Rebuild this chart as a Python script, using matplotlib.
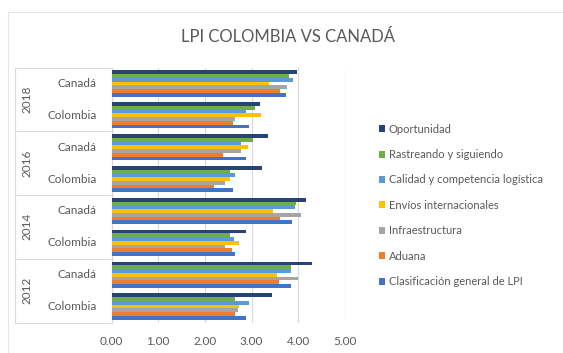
import matplotlib
matplotlib.use("Agg")
import matplotlib.pyplot as plt
import matplotlib.transforms as mtransforms
from matplotlib.patches import Patch, Rectangle
from matplotlib.lines import Line2D
import numpy as np

plt.rcParams['font.family'] = ['Lato', 'DejaVu Sans']

years = ['2012', '2014', '2016', '2018']
countries = ['Colombia', 'Canadá']

series_names = [
    'Clasificación general de LPI',
    'Aduana',
    'Infraestructura',
    'Envíos internacionales',
    'Calidad y competencia logística',
    'Rastreando y siguiendo',
    'Oportunidad',
]
colors = ['#4472C4', '#ED7D31', '#A5A5A5', '#FFC000', '#5B9BD5', '#70AD47', '#264478']

# Order of rows: 2012 Colombia, 2012 Canadá, 2014 Colombia, 2014 Canadá, ...
lpi_general    = [2.87, 3.85, 2.64, 3.86, 2.60, 2.88, 2.94, 3.73]
aduana         = [2.64, 3.58, 2.58, 3.60, 2.19, 2.39, 2.60, 3.60]
infraestructura = [2.70, 3.99, 2.43, 4.06, 2.43, 2.77, 2.65, 3.75]
envios         = [2.74, 3.55, 2.72, 3.45, 2.54, 2.92, 3.20, 3.38]
calidad        = [2.94, 3.85, 2.63, 3.94, 2.64, 2.77, 2.88, 3.89]
rastreando     = [2.64, 3.85, 2.54, 3.96, 2.54, 3.04, 3.07, 3.81]
oportunidad    = [3.44, 4.30, 2.87, 4.17, 3.23, 3.36, 3.17, 3.97]

series_values = [lpi_general, aduana, infraestructura, envios, calidad, rastreando, oportunidad]
x_ticks = [0, 1, 2, 3, 4, 5]

W, H = 563, 353
fig = plt.figure(figsize=(W / 100, H / 100), dpi=100)
fig.patch.set_facecolor('white')

# light chart frame
fig.add_artist(Rectangle((8 / W, -0.05), 1.2, 1 - 12 / H + 0.05, transform=fig.transFigure,
                         fill=False, edgecolor='#E6E6E6', linewidth=0.8))

ax_left, ax_right = 111.5, 345.0
ax_top, ax_bottom = 67.5, 322.5
ax = fig.add_axes([ax_left / W, 1 - ax_bottom / H, (ax_right - ax_left) / W, (ax_bottom - ax_top) / H])

n_rows = len(lpi_general)
n_series = len(series_values)
group_h = 0.82
bar_h = group_h / n_series
y_pos = np.arange(n_rows)

for i, (vals, col) in enumerate(zip(series_values, colors)):
    offs = -group_h / 2 + bar_h * (i + 0.5)
    ax.barh(y_pos + offs, vals, height=bar_h, color=col, zorder=3, linewidth=0)

ax.set_xlim(0, 5)
ax.set_ylim(-0.5, n_rows - 0.5)
ax.set_xticks(x_ticks)
ax.set_xticklabels([f'{v:.2f}' for v in x_ticks], color='#595959', fontsize=8.5)
ax.set_yticks([])
ax.tick_params(axis='x', length=0, pad=10)
ax.grid(axis='x', color='#D9D9D9', linewidth=0.8, zorder=0)
for s in ['top', 'right', 'bottom']:
    ax.spines[s].set_visible(False)
ax.spines['left'].set_color('#D9D9D9')
ax.spines['left'].set_linewidth(0.8)

# two-level category axis
trans = mtransforms.blended_transform_factory(ax.transAxes, ax.transData)
x_outer = (15 - ax_left) / (ax_right - ax_left)
for yb in [-0.5, 1.5, 3.5, 5.5, 7.5]:
    ax.add_line(Line2D([x_outer, 0], [yb, yb], transform=trans, color='#D9D9D9',
                       linewidth=0.8, clip_on=False))
ax.add_line(Line2D([x_outer, x_outer], [-0.5, 7.5], transform=trans, color='#D9D9D9',
                   linewidth=0.8, clip_on=False))

x_country = (97 - ax_left) / (ax_right - ax_left)
x_year = (27 - ax_left) / (ax_right - ax_left)
for r in range(n_rows):
    ax.text(x_country, r, countries[r % 2], transform=trans, ha='right', va='center',
            fontsize=8.5, color='#595959', clip_on=False)
for k, yr in enumerate(years):
    ax.text(x_year, 2 * k + 0.5, yr, transform=trans, ha='center', va='center',
            rotation=90, fontsize=8.5, color='#595959', clip_on=False)

fig.text(288 / W, 1 - 37 / H, 'LPI COLOMBIA VS CANADÁ', ha='center', va='center',
         fontsize=12, color='#595959')

handles = [Patch(facecolor=c, edgecolor='none') for c in colors][::-1]
labels = series_names[::-1]
fig.legend(handles, labels, loc='upper left', bbox_to_anchor=(373 / W, 1 - 118 / H),
           frameon=False, fontsize=8, labelcolor='#595959', handlelength=0.6,
           handleheight=0.6, handletextpad=0.3, labelspacing=1.3, borderpad=0)

fig.savefig('out.png', dpi=100, facecolor='white')
